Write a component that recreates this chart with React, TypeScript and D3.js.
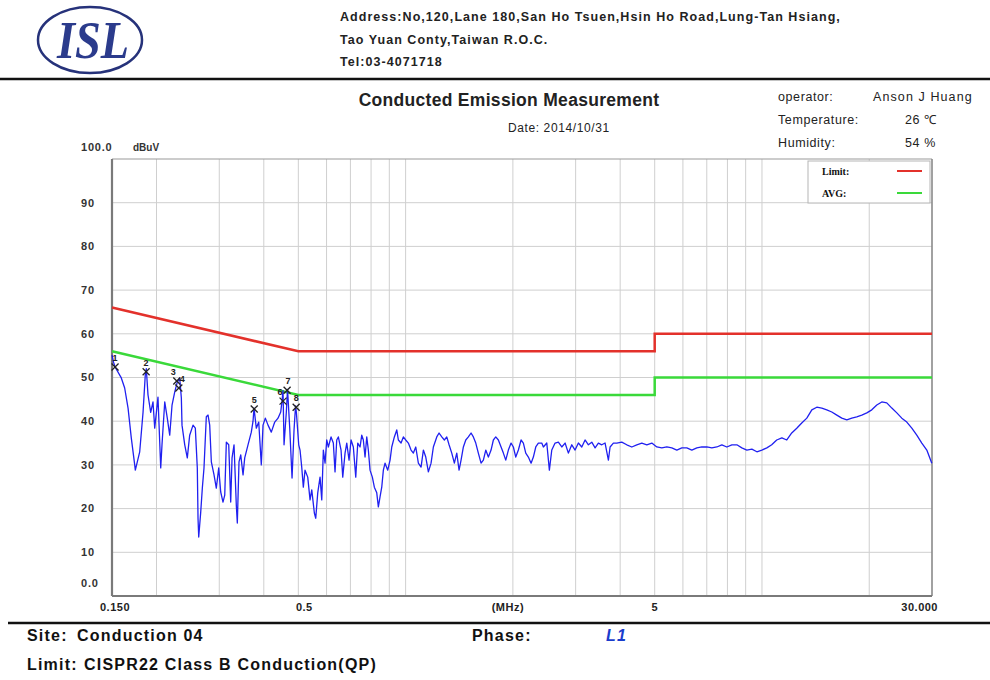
import * as React from "react";
import * as d3 from "d3";

const traceFreq = [
  0.15, 0.1515, 0.153, 0.1593, 0.1628, 0.1664, 0.1699, 0.1737, 0.1744, 0.1794,
  0.1833, 0.186, 0.1872, 0.1893, 0.1926, 0.1955, 0.1977, 0.2019, 0.2055, 0.2072,
  0.2109, 0.2144, 0.2178, 0.2211, 0.225, 0.2288, 0.2323, 0.2348, 0.2358, 0.24,
  0.244, 0.2478, 0.2532, 0.257, 0.2603, 0.2615, 0.2627, 0.2661, 0.2689, 0.2718,
  0.2759, 0.279, 0.282, 0.285, 0.29, 0.2943, 0.2989, 0.3028, 0.3073, 0.3108,
  0.314, 0.3189, 0.323, 0.3258, 0.33, 0.3349, 0.3371, 0.3408, 0.3446, 0.3498,
  0.3536, 0.3612, 0.369, 0.3731, 0.3755, 0.3811, 0.3871, 0.3936, 0.398, 0.404,
  0.4111, 0.4199, 0.4293, 0.4385, 0.4462, 0.45, 0.4529, 0.4559, 0.4627, 0.4663,
  0.473, 0.4801, 0.4863, 0.4911, 0.4936, 0.5013, 0.5055, 0.5111, 0.5164, 0.5221,
  0.5313, 0.5393, 0.5453, 0.5545, 0.5595, 0.5668, 0.5753, 0.5817, 0.5877, 0.5942,
  0.6007, 0.607, 0.6177, 0.6269, 0.6338, 0.6408, 0.6475, 0.6589, 0.6662, 0.6762,
  0.6837, 0.6939, 0.7029, 0.7134, 0.7246, 0.734, 0.745, 0.7532, 0.761, 0.7694,
  0.7779, 0.786, 0.7947, 0.8066, 0.8171, 0.8299, 0.8385, 0.8477, 0.8571, 0.8661,
  0.8756, 0.891, 0.9044, 0.9144, 0.9299, 0.9444, 0.9542, 0.971, 0.9855, 1.0009,
  1.0179, 1.0358, 1.0514, 1.0678, 1.0859, 1.105, 1.1216, 1.1391, 1.1584, 1.1787,
  1.1964, 1.223, 1.2413, 1.2632, 1.2846, 1.3046, 1.3242, 1.3475, 1.3703, 1.3917,
  1.4126, 1.4309, 1.4524, 1.4751, 1.5, 1.5264, 1.5492, 1.5736, 1.6, 1.6282,
  1.6527, 1.6786, 1.7069, 1.737, 1.763, 1.7905, 1.821, 1.853, 1.8807, 1.91,
  1.9425, 1.9766, 2.0063, 2.0376, 2.0721, 2.1087, 2.1402, 2.1735, 2.2104, 2.2495,
  2.283, 2.3187, 2.358, 2.4104, 2.4354, 2.4896, 2.5317, 2.5713, 2.6267, 2.6832,
  2.7429, 2.8022, 2.8625, 2.9262, 2.9892, 3.0536, 3.1215, 3.1887, 3.2576, 3.3297,
  3.4017, 3.4749, 3.5522, 3.6287, 3.7071, 3.7478, 3.8285, 3.9137, 4.0422, 4.1748,
  4.3122, 4.4538, 4.6, 4.7516, 4.9076, 5.0687, 5.2355, 5.4075, 5.585, 5.7686,
  5.958, 6.153, 6.356, 6.565, 6.78, 7.003, 7.233, 7.47, 7.716, 7.97,
  8.232, 8.502, 8.781, 9.07, 9.368, 9.676, 9.993, 10.32, 10.65, 11.0,
  11.37, 11.74, 12.12, 12.52, 12.93, 13.36, 13.8, 14.25, 14.72, 15.2,
  15.7, 16.22, 16.75, 17.3, 17.87, 18.45, 19.06, 19.69, 20.33, 21.0,
  21.69, 22.4, 23.14, 23.9, 24.68, 25.49, 26.33, 27.19, 28.09, 29.01,
  29.96,
];

const traceLevel = [
  55.1, 53.5, 52.4, 49.9, 47.6, 43.0, 36.2, 30.0, 28.8, 33.0,
  42.0, 50.6, 52.0, 46.0, 42.0, 44.4, 38.4, 45.5, 29.3, 34.6,
  44.4, 40.7, 36.8, 43.7, 46.7, 49.0, 49.9, 45.3, 39.1, 34.6,
  31.6, 36.8, 39.1, 38.4, 29.3, 17.8, 13.5, 19.2, 24.7, 29.3,
  41.0, 41.4, 39.1, 30.7, 27.7, 24.7, 29.3, 23.8, 21.5, 23.1,
  35.2, 34.6, 21.5, 31.6, 34.6, 20.8, 16.7, 30.7, 32.3, 27.7,
  31.6, 34.6, 37.5, 40.0, 43.0, 38.4, 39.8, 30.0, 39.1, 40.7,
  39.1, 37.5, 39.8, 40.7, 42.1, 44.6, 47.0, 34.6, 42.1, 47.3,
  38.4, 27.0, 38.0, 43.5, 42.1, 34.6, 33.4, 29.5, 24.9, 28.8,
  27.2, 22.0, 24.3, 19.0, 17.8, 23.6, 27.2, 22.0, 33.4, 30.4,
  35.7, 34.1, 36.4, 35.0, 28.4, 35.7, 36.4, 33.4, 27.2, 32.7,
  35.0, 31.1, 35.7, 34.1, 27.2, 35.0, 34.1, 36.8, 35.7, 31.8,
  36.4, 33.4, 28.8, 27.2, 24.9, 23.6, 20.4, 22.7, 24.9, 28.8,
  30.4, 28.8, 31.1, 34.1, 36.4, 38.0, 35.7, 35.0, 36.4, 35.7,
  35.0, 33.4, 32.7, 34.1, 30.4, 29.5, 33.4, 31.8, 28.4, 30.4,
  34.1, 36.4, 37.3, 36.4, 35.7, 36.4, 34.6, 32.7, 30.4, 32.7,
  28.8, 31.1, 34.1, 35.7, 36.4, 37.3, 36.4, 35.0, 32.7, 30.4,
  31.1, 33.4, 31.8, 33.4, 35.7, 36.4, 35.7, 34.1, 32.7, 31.1,
  33.4, 35.0, 34.1, 31.8, 33.4, 35.7, 35.0, 32.7, 31.8, 30.4,
  31.8, 34.1, 35.0, 35.0, 34.1, 35.0, 28.8, 33.4, 35.0, 35.2,
  34.1, 35.0, 32.7, 34.6, 33.4, 35.0, 34.1, 35.7, 34.6, 35.2,
  33.9, 35.0, 34.6, 35.0, 31.1, 34.1, 35.0, 35.0, 35.2, 34.6,
  34.1, 34.6, 35.0, 34.6, 35.0, 34.1, 33.9, 34.1, 33.9, 33.4,
  33.9, 33.9, 33.4, 33.9, 34.1, 34.1, 33.9, 34.1, 34.6, 34.1,
  34.6, 34.6, 33.9, 33.4, 33.6, 33.0, 33.4, 33.9, 34.6, 35.7,
  36.2, 35.7, 37.3, 38.4, 39.6, 40.7, 42.6, 43.2, 43.0, 42.6,
  42.1, 41.4, 40.7, 40.3, 40.7, 41.0, 41.4, 41.9, 42.6, 43.7,
  44.4, 44.2, 43.0, 41.9, 40.7, 39.8, 38.4, 36.8, 35.0, 33.4,
  30.4,
];

// CISPR22 Class B limits
const limitFreq = [0.15, 0.5, 5, 5, 30];
const qpLimit = [66, 56, 56, 60, 60];
const avgLimit = [56, 46, 46, 50, 50];

// peak markers
const markerFreq = [0.153, 0.187, 0.228, 0.231, 0.376, 0.453, 0.465, 0.493];
const markerLevel = [52.4, 51.3, 49.2, 47.6, 42.8, 44.6, 47.1, 43.2];

const gridFreqs = [0.2, 0.3, 0.4, 0.5, 0.6, 0.7, 0.8, 0.9, 1, 2, 3, 4, 5, 6, 7, 8, 9, 10, 20];
const gridLevels = [10, 20, 30, 40, 50, 60, 70, 80, 90];
const yTickLabels = ["0.0", "10", "20", "30", "40", "50", "60", "70", "80", "90"];
const xTickLabels = [
  { f: 0.15, label: "0.150" },
  { f: 0.5, label: "0.5" },
  { f: 2, label: "(MHz)" },
  { f: 5, label: "5" },
  { f: 30, label: "30.000" },
];

const addressLines = [
  "Address:No,120,Lane 180,San Ho Tsuen,Hsin Ho Road,Lung-Tan Hsiang,",
  "Tao Yuan Conty,Taiwan R.O.C.",
  "Tel:03-4071718",
];

const W = 990;
const H = 680;
const margin = { top: 159, right: 58, bottom: 84, left: 112 };
const SANS = "'Liberation Sans', Arial, sans-serif";

export default function App() {
  const x = d3.scaleLog().domain([0.15, 30]).range([margin.left, W - margin.right]);
  const y = d3.scaleLinear().domain([0, 100]).range([H - margin.bottom, margin.top]);
  const x0 = x.range()[0];
  const x1 = x.range()[1];
  const y0 = y.range()[0];
  const y1 = y.range()[1];

  const line = d3
    .line<[number, number]>()
    .x((d) => x(d[0]))
    .y((d) => y(d[1]));

  const trace = traceFreq.map((f, i) => [f, traceLevel[i]] as [number, number]);
  const qp = limitFreq.map((f, i) => [f, qpLimit[i]] as [number, number]);
  const avg = limitFreq.map((f, i) => [f, avgLimit[i]] as [number, number]);

  const xLabelDx = (f: number) => (f === 0.5 ? 6 : f === 2 ? -5 : f === 0.15 ? -12 : f === 30 ? 6 : 0);
  const xLabelAnchor = (f: number) => (f === 0.15 ? "start" : f === 30 ? "end" : "middle");
  // markers 3 and 4 sit almost on top of each other: nudge their numbers apart
  const markerLabelDx = [0, 0, -3.5, 3.5, 0, -3, 1, 0];

  const footer = { fontSize: 16, fontWeight: "bold" as const, letterSpacing: 1.2 };

  return (
    <svg
      width={W}
      height={H}
      style={{ position: "absolute", left: 0, top: 0, background: "#fff" }}
      fontFamily={SANS}
    >
      {/* header */}
      <ellipse cx={90} cy={40} rx={52} ry={33} fill="none" stroke="#26327a" strokeWidth={2.5} />
      <text
        x={93}
        y={58}
        textAnchor="middle"
        fontFamily="'Liberation Serif', 'DejaVu Serif', serif"
        fontWeight="bold"
        fontStyle="italic"
        fontSize={52}
        fill="#2b3b8c"
        textLength={72}
        lengthAdjust="spacingAndGlyphs"
      >
        ISL
      </text>
      {addressLines.map((t, i) => (
        <text key={i} x={340} y={21 + i * 22.5} fontSize={12.5} fontWeight="bold" fill="#222" letterSpacing={1.05}>
          {t}
        </text>
      ))}
      <line x1={0} x2={W} y1={79} y2={79} stroke="#111" strokeWidth={2.5} />

      <text x={509} y={106} textAnchor="middle" fontSize={17.5} fontWeight="bold" fill="#222" letterSpacing={0.3}>
        Conducted Emission Measurement
      </text>
      <text x={508} y={132} fontSize={12} fill="#222" letterSpacing={0.6}>
        Date: 2014/10/31
      </text>
      <text x={778} y={101} fontSize={12.5} fill="#222" letterSpacing={0.6}>operator:</text>
      <text x={873} y={101} fontSize={12.5} fill="#222" letterSpacing={1.1}>Anson J Huang</text>
      <text x={778} y={124} fontSize={12.5} fill="#222" letterSpacing={0.6}>Temperature:</text>
      <text x={905} y={124} fontSize={12.5} fill="#222" letterSpacing={0.6}>26 ℃</text>
      <text x={778} y={147} fontSize={12.5} fill="#222" letterSpacing={0.6}>Humidity:</text>
      <text x={905} y={147} fontSize={12.5} fill="#222" letterSpacing={0.6}>54 %</text>

      {/* grid */}
      {gridFreqs.map((f) => (
        <line key={f} x1={x(f)} x2={x(f)} y1={y1} y2={y0} stroke="#cfcfcf" strokeWidth={1} />
      ))}
      {gridLevels.map((v) => (
        <line key={v} x1={x0} x2={x1} y1={y(v)} y2={y(v)} stroke="#cfcfcf" strokeWidth={1} />
      ))}

      {/* frame */}
      <line x1={x0} x2={x1} y1={y1} y2={y1} stroke="#9a9a9a" strokeWidth={1.2} />
      <line x1={x1} x2={x1} y1={y1} y2={y0} stroke="#8a8a8a" strokeWidth={1.6} />
      <line x1={x0} x2={x0} y1={y1} y2={y0} stroke="#7a7a7a" strokeWidth={2.2} />
      <line x1={x0} x2={x1} y1={y0} y2={y0} stroke="#7a7a7a" strokeWidth={2.2} />

      {/* y labels */}
      <text x={81} y={151} fontSize={11} fontWeight="bold" fill="#333" letterSpacing={0.8}>
        100.0
      </text>
      <text x={133} y={151} fontSize={10} fontWeight="bold" fill="#333">
        dBuV
      </text>
      {yTickLabels.map((t, i) => (
        <text
          key={t}
          x={81}
          y={i === 0 ? y(0) - 13 : y(i * 10)}
          dy="0.35em"
          fontSize={11}
          fontWeight="bold"
          fill="#333"
          letterSpacing={0.8}
        >
          {t}
        </text>
      ))}

      {/* x labels */}
      {xTickLabels.map((t) => (
        <text
          key={t.label}
          x={x(t.f) + xLabelDx(t.f)}
          y={611}
          textAnchor={xLabelAnchor(t.f)}
          fontSize={11}
          fontWeight="bold"
          fill="#222"
          letterSpacing={0.5}
        >
          {t.label}
        </text>
      ))}

      {/* limits */}
      <path d={line(qp) ?? undefined} fill="none" stroke="#e3312b" strokeWidth={2.5} />
      <path d={line(avg) ?? undefined} fill="none" stroke="#3ad93a" strokeWidth={2.5} />

      {/* trace */}
      <path
        d={line(trace) ?? undefined}
        fill="none"
        stroke="#2020f0"
        strokeWidth={1.3}
        strokeLinejoin="round"
      />

      {/* markers */}
      {markerFreq.map((f, i) => {
        const mx = x(f);
        const my = y(markerLevel[i]);
        const s = 3.5;
        return (
          <g key={i}>
            <line x1={mx - s} x2={mx + s} y1={my - s} y2={my + s} stroke="#222" strokeWidth={1.3} />
            <line x1={mx - s} x2={mx + s} y1={my + s} y2={my - s} stroke="#222" strokeWidth={1.3} />
            <text
              x={mx + markerLabelDx[i]}
              y={my - 6}
              textAnchor="middle"
              fontSize={9}
              fontWeight="bold"
              fill="#222"
            >
              {i + 1}
            </text>
          </g>
        );
      })}

      {/* legend */}
      <rect x={808} y={161} width={122} height={42} fill="#fff" stroke="#b5b5b5" strokeWidth={1} />
      <text x={822} y={175} fontSize={10} fontWeight="bold" fill="#111" fontFamily="'Liberation Serif', serif">
        Limit:
      </text>
      <line x1={897} x2={922} y1={171} y2={171} stroke="#e3312b" strokeWidth={2} />
      <text x={822} y={197} fontSize={10} fontWeight="bold" fill="#111" fontFamily="'Liberation Serif', serif">
        AVG:
      </text>
      <line x1={897} x2={922} y1={193} y2={193} stroke="#3ad93a" strokeWidth={2} />

      {/* footer */}
      <line x1={8} x2={W} y1={623} y2={623} stroke="#111" strokeWidth={2.5} />
      <text x={27} y={641} {...footer} fill="#111">Site:</text>
      <text x={77} y={641} {...footer} fill="#111">Conduction 04</text>
      <text x={472} y={641} {...footer} fill="#111">Phase:</text>
      <text x={606} y={641} {...footer} fontStyle="italic" fill="#1a3ccc">L1</text>
      <text x={27} y={670} {...footer} fill="#111">Limit:</text>
      <text x={84} y={670} {...footer} fill="#111">CISPR22 Class B Conduction(QP)</text>
    </svg>
  );
}
